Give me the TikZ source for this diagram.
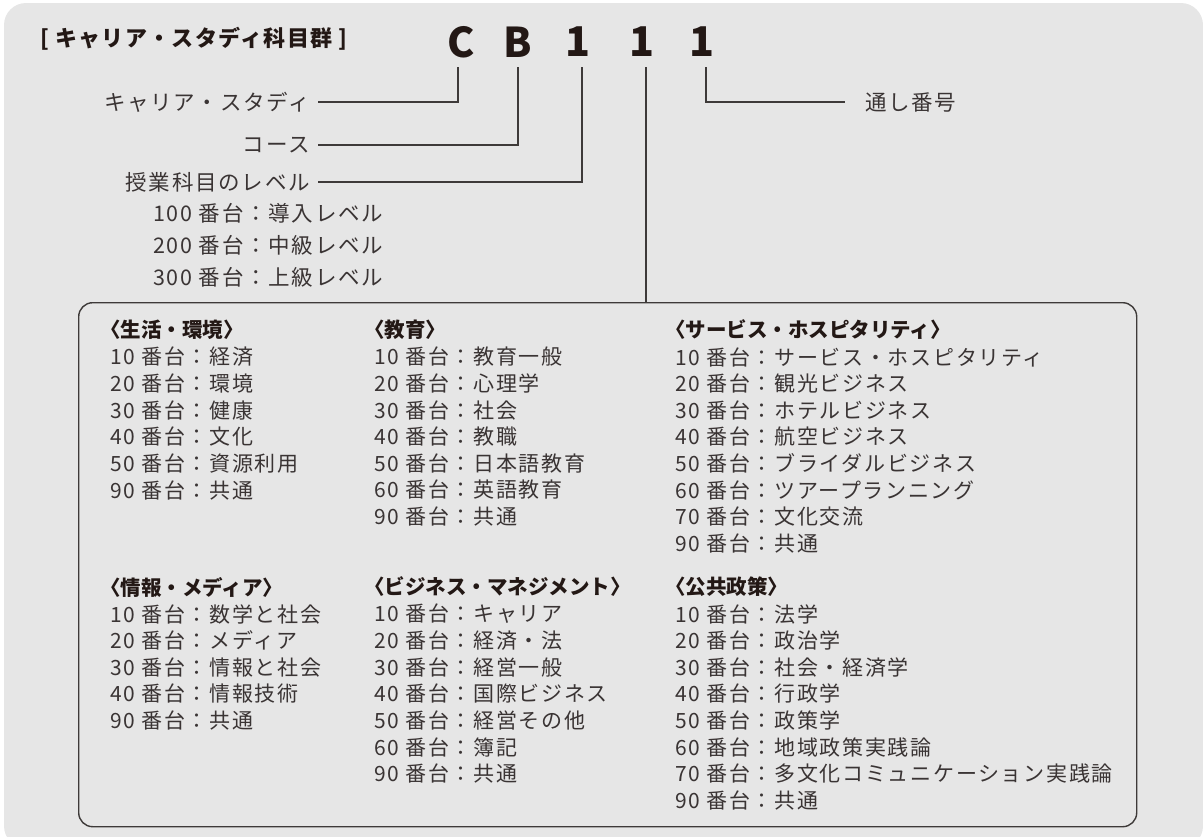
\documentclass[tikz,border=0pt]{standalone}
\usepackage{fontspec}
\newfontfamily\jp[LetterSpace=8]{Noto Sans CJK JP}
\newfontfamily\jph{Noto Sans CJK JP}
\newfontfamily\jpt[LetterSpace=6]{Noto Sans CJK JP}
\definecolor{bggray}{HTML}{E6E6E6}
\definecolor{inkc}{HTML}{231815}
\definecolor{bodyc}{HTML}{3A3434}
\definecolor{linec}{HTML}{3E3A39}
\newcommand\mkcol[5]{%
  \node[hdr] (#1h) at (#2-10,#3) {〈#4〉};
  \foreach \t [count=\i] in {#5} \node[item] (#1r\i) at (#2,#3+27+26.6*\i-26.6) {\t};%
}
\begin{document}
\begin{tikzpicture}[x=1pt,y=-1pt,
  item/.style={anchor=west, inner sep=0pt, text=bodyc, font=\jp\fontsize{21}{25}\selectfont},
  lab/.style={inner sep=0pt, text=bodyc, font=\jp\fontsize{21.5}{25}\selectfont},
  hdr/.style={anchor=west, inner sep=0pt, text=inkc, font=\jph\bfseries\fontsize{20.5}{25}\selectfont},
  ttl/.style={anchor=west, inner sep=0pt, text=inkc, font=\jpt\bfseries\fontsize{22}{25}\selectfont},
  code/.style={inner sep=0pt, text=inkc, font=\jph\bfseries\fontsize{41}{44}\selectfont},
  ln/.style={draw=linec, line width=1.4pt}]
\clip (0,0) rectangle (1203,836);
\fill[bggray, rounded corners=22] (4,3) rectangle (1203,848);
% title and code
\node[ttl] (title) at (40,39) {[ キャリア・スタディ科目群 ]};
\node[code] (C) at (461,42) {C};
\node[code] (B) at (518,42) {B};
\node[code] (n1) at (578,42) {1};
\node[code] (n2) at (642,42) {1};
\node[code] (n3) at (702,42) {1};
\coordinate (tC) at (458,67);
\coordinate (tB) at (518,67);
\coordinate (t1) at (582,67);
\coordinate (t2) at (646,67);
\coordinate (t3) at (706,67);
% labels
\node[lab, anchor=east] (l1) at (310,102) {キャリア・スタディ};
\node[lab, anchor=east] (l2) at (310,145) {コース};
\node[lab, anchor=east] (l3) at (310,182) {授業科目のレベル};
\node[lab, anchor=west] (v1) at (153,213) {100 番台：導入レベル};
\node[lab, anchor=west] (v2) at (153,245) {200 番台：中級レベル};
\node[lab, anchor=west] (v3) at (153,277) {300 番台：上級レベル};
\node[lab, anchor=west] (l5) at (865,102) {通し番号};
% box
\node[draw=linec, line width=1.4pt, rounded corners=14, minimum width=1058pt, minimum height=524pt, anchor=north west, inner sep=0pt] (box) at (78,302) {};
% connectors
\draw[ln] (tC) |- ([xshift=8pt]l1.east);
\draw[ln] (tB) |- ([xshift=8pt]l2.east);
\draw[ln] (t1) |- ([xshift=8pt]l3.east);
\draw[ln] (t2) -- (t2 |- box.north);
\draw[ln] (t3) |- ([xshift=-20pt]l5.west);
% columns
\mkcol{a}{110}{330}{生活・環境}{10 番台：経済,20 番台：環境,30 番台：健康,40 番台：文化,50 番台：資源利用,90 番台：共通}
\mkcol{b}{374}{330}{教育}{10 番台：教育一般,20 番台：心理学,30 番台：社会,40 番台：教職,50 番台：日本語教育,60 番台：英語教育,90 番台：共通}
\mkcol{c}{675}{330}{サービス・ホスピタリティ}{10 番台：サービス・ホスピタリティ,20 番台：観光ビジネス,30 番台：ホテルビジネス,40 番台：航空ビジネス,50 番台：ブライダルビジネス,60 番台：ツアープランニング,70 番台：文化交流,90 番台：共通}
\mkcol{d}{110}{587}{情報・メディア}{10 番台：数学と社会,20 番台：メディア,30 番台：情報と社会,40 番台：情報技術,90 番台：共通}
\mkcol{e}{374}{587}{ビジネス・マネジメント}{10 番台：キャリア,20 番台：経済・法,30 番台：経営一般,40 番台：国際ビジネス,50 番台：経営その他,60 番台：簿記,90 番台：共通}
\mkcol{f}{675}{587}{公共政策}{10 番台：法学,20 番台：政治学,30 番台：社会・経済学,40 番台：行政学,50 番台：政策学,60 番台：地域政策実践論,70 番台：多文化コミュニケーション実践論,90 番台：共通}
\end{tikzpicture}
\end{document}
